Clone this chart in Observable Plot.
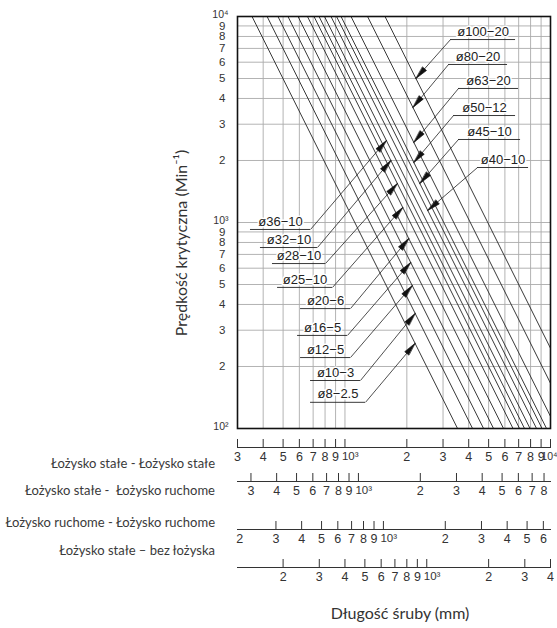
<!DOCTYPE html>
<html><head><meta charset="utf-8">
<script src="https://cdn.jsdelivr.net/npm/d3@7"></script>
<script src="https://cdn.jsdelivr.net/npm/@observablehq/plot@0.6"></script>
<style>
html,body{margin:0;padding:0;background:#fff;}
#chart{position:relative;width:557px;height:628px;overflow:hidden;font-family:Lato,"Open Sans",sans-serif;color:#333;}
#chart svg{position:absolute;left:0;}
.rowlabel{position:absolute;right:342px;font-size:13px;line-height:16px;white-space:nowrap;color:#3a3a3a;}
.xtitle{position:absolute;left:290px;width:220px;text-align:center;top:604px;font-size:16px;line-height:18px;color:#333;}
.ytitle{position:absolute;left:31px;width:300px;text-align:center;top:234px;font-size:16px;line-height:18px;color:#333;transform:rotate(-90deg);transform-origin:150px 9px;}
</style></head>
<body><div id="chart"></div>
<script>
// ---- data ----
const screws = ["ø8−2.5","ø10−3","ø12−5","ø16−5","ø20−6","ø25−10","ø28−10","ø32−10","ø36−10","ø40−10","ø45−10","ø50−12","ø63−20","ø80−20","ø100−20"];
// screw length (mm, fixed–fixed) where the critical speed is 10^4 and 10^2 rpm
const lengthAt10000 = [353, 418, 472, 528, 591, 657, 707, 748, 795, 855, 910, 957, 1070, 1288, 1566];
const lengthAt100   = [3530, 4176, 4724, 5283, 5908, 6572, 7070, 7476, 7953, 8553, 9096, 9566, 10700, 12875, 15660];
// annotation callouts
const labelSide  = ["left","left","left","left","left","left","left","left","left","right","right","right","right","right","right"];
const labelSpeed = [134, 171, 221, 283, 382, 484, 632, 756, 925, 1849, 2529, 3306, 4473, 5848, 7730];
const labelFrom  = [680, 680, 608, 588, 608, 470, 444, 388, 347, 4416, 3568, 3375, 3568, 3191, 3263];
const labelTo    = [1259, 1190, 1064, 1029, 1064, 870, 804, 735, 680, 7820, 7150, 6760, 6990, 6180, 6760];
const arrowSpeed = [259, 362, 494, 640, 836, 1183, 1546, 2000, 2500, 1144, 1546, 1955, 2446, 3616, 5000];

const speedTicks = [100,200,300,400,500,600,700,800,900,1000,2000,3000,4000,5000,6000,7000,8000,9000,10000];
const speedGrid  = [200,300,400,500,600,700,800,900,1000,2000,3000,4000,5000,6000,7000,8000,9000];
const lengthGrid = [400,500,600,700,800,900,1000,2000,3000,4000,5000,6000,7000,8000,9000];

const axisNames   = ["Łożysko stałe - Łożysko stałe","Łożysko stałe -\u00a0 Łożysko ruchome","Łożysko ruchome - Łożysko ruchome","Łożysko stałe – bez łożyska"];
const axisDomains = [[300,10000],[258,8600],[195,6500],[120,4000]];
const axisTicks = [
  [300,400,500,600,700,800,900,1000,2000,3000,4000,5000,6000,7000,8000,9000,10000],
  [300,400,500,600,700,800,900,1000,2000,3000,4000,5000,6000,7000,8000],
  [300,400,500,600,700,800,900,1000,2000,3000,4000,5000,6000],
  [200,300,400,500,600,700,800,900,1000,2000,3000,4000]
];
const axisLabels = [
  [300,400,500,600,700,800,900,1000,2000,3000,4000,5000,6000,7000,8000,9000,10000],
  [300,400,500,600,700,800,900,1000,2000,3000,4000,5000,6000,7000,8000],
  [200,300,400,500,600,700,800,900,1000,2000,3000,4000,5000,6000],
  [200,300,400,500,600,700,800,900,1000,2000,3000,4000]
];
const axisTop = [439, 473, 521, 559];
const axisNameTop = [455, 482, 514, 542];

// ---- helpers ----
const sup = {2:"²",3:"³",4:"⁴"};
const isPow = v => Math.abs(Math.log10(v) - Math.round(Math.log10(v))) < 1e-9;
function fmtLog(v){
  const e = Math.floor(Math.log10(v) + 1e-9);
  const m = Math.round(v / Math.pow(10, e));
  return m === 1 ? "10" + sup[e] : String(m);
}
const W = 557, ML = 237, MR = 7, MT = 16, FB = 428;
const font = "'Liberation Sans',Arial,sans-serif";
const xs = Plot.scale({x: {type: "log", domain: [300, 10000], range: [ML, W - MR]}});
const ys = Plot.scale({y: {type: "log", domain: [100, 10000], range: [FB, MT]}});

const lineData = screws.flatMap((s, i) => [
  {screw: s, L: lengthAt10000[i], N: 10000},
  {screw: s, L: lengthAt100[i], N: 100}
]);

const callouts = screws.map((s, i) => {
  const a = Math.log10(lengthAt10000[i]), b = Math.log10(lengthAt100[i]);
  const t = (4 - Math.log10(arrowSpeed[i])) / 2;
  const tipL = Math.pow(10, a + t * (b - a));
  const startL = labelSide[i] === "left" ? labelTo[i] : labelFrom[i];
  const dx = xs.apply(tipL) - xs.apply(startL);
  const dy = ys.apply(arrowSpeed[i]) - ys.apply(labelSpeed[i]);
  return {
    screw: s, N: labelSpeed[i], from: labelFrom[i], to: labelTo[i],
    mid: Math.sqrt(labelFrom[i] * labelTo[i]),
    startL, tipL, tipN: arrowSpeed[i],
    rotate: Math.atan2(dx, -dy) * 180 / Math.PI
  };
});

const triangle = {
  draw(context, l) {
    context.moveTo(0, -l);
    context.lineTo(-2.6, 0);
    context.lineTo(2.6, 0);
    context.closePath();
  }
};

const chart = document.getElementById("chart");

const main = Plot.plot({
  width: W, height: FB + 12,
  marginLeft: ML, marginRight: MR, marginTop: MT, marginBottom: 12,
  x: {type: "log", domain: [300, 10000], axis: null},
  y: {type: "log", domain: [100, 10000], axis: null},
  style: {fontFamily: font, fontSize: "12px", color: "#333", background: "transparent", overflow: "visible"},
  marks: [
    Plot.gridX(lengthGrid, {stroke: "#aaa", strokeOpacity: 1, strokeWidth: 0.9}),
    Plot.gridY(speedGrid, {stroke: "#aaa", strokeOpacity: 1, strokeWidth: 0.9}),
    Plot.text(speedTicks.filter(v => !isPow(v)), {y: d => d, frameAnchor: "left", dx: -12, textAnchor: "end", text: fmtLog, fontSize: 11.5, fill: "#333"}),
    Plot.text(speedTicks.filter(isPow), {y: d => d, frameAnchor: "left", dx: -9, dy: -2, textAnchor: "end", text: fmtLog, fontSize: 10.5, fill: "#333"}),
    Plot.line(lineData, {x: "L", y: "N", z: "screw", stroke: "#222", strokeWidth: 0.9, clip: true}),
    Plot.ruleY(callouts, {y: "N", x1: "from", x2: "to", stroke: "#222", strokeWidth: 0.9}),
    Plot.link(callouts, {x1: "startL", y1: "N", x2: "tipL", y2: "tipN", stroke: "#222", strokeWidth: 0.8}),
    Plot.vector(callouts, {x: "tipL", y: "tipN", rotate: "rotate", length: 13, anchor: "end", shape: triangle, fill: "#111", stroke: "#111", strokeWidth: 0.6}),
    Plot.text(callouts, {x: "mid", y: "N", text: "screw", dy: -8, fontSize: 13, fill: "#222", stroke: "white", strokeWidth: 3, textAnchor: "middle"}),
    Plot.frame({stroke: "#111", strokeWidth: 1.6})
  ]
});
main.style.top = "0px";
chart.appendChild(main);

axisNames.forEach((name, k) => {
  const [lo, hi] = axisDomains[k];
  const labels = axisLabels[k];
  const svg = Plot.plot({
    width: W, height: 30,
    marginLeft: ML, marginRight: MR, marginTop: 0, marginBottom: 22,
    x: {type: "log", domain: axisDomains[k], axis: null},
    style: {fontFamily: font, fontSize: "12px", color: "#333", background: "transparent", overflow: "visible"},
    marks: [
      Plot.ruleX(axisTicks[k], {stroke: "#333", strokeWidth: 1}),
      Plot.frame({anchor: "bottom", stroke: "#333", strokeWidth: 1}),
      Plot.text(labels.filter(v => !isPow(v)), {x: d => d, frameAnchor: "bottom", dy: 13, text: fmtLog, fontSize: 12.5, fill: "#333"}),
      Plot.text(labels.filter(v => isPow(v) && v < hi * 0.99), {x: d => d, frameAnchor: "bottom", dy: 12, dx: -3, textAnchor: "start", text: fmtLog, fontSize: 11.5, fill: "#333"}),
      Plot.text(labels.filter(v => isPow(v) && v >= hi * 0.99), {x: d => d, frameAnchor: "bottom", dy: 12, dx: 7, textAnchor: "end", text: fmtLog, fontSize: 10.5, fill: "#333"})
    ]
  });
  svg.style.top = axisTop[k] + "px";
  chart.appendChild(svg);
  const d = document.createElement("div");
  d.className = "rowlabel";
  d.style.top = axisNameTop[k] + "px";
  d.textContent = name;
  chart.appendChild(d);
});

const xt = document.createElement("div");
xt.className = "xtitle";
xt.textContent = "Długość śruby (mm)";
chart.appendChild(xt);
const yt = document.createElement("div");
yt.className = "ytitle";
yt.textContent = "Prędkość krytyczna (Min⁻¹)";
chart.appendChild(yt);
</script>
</body></html>
